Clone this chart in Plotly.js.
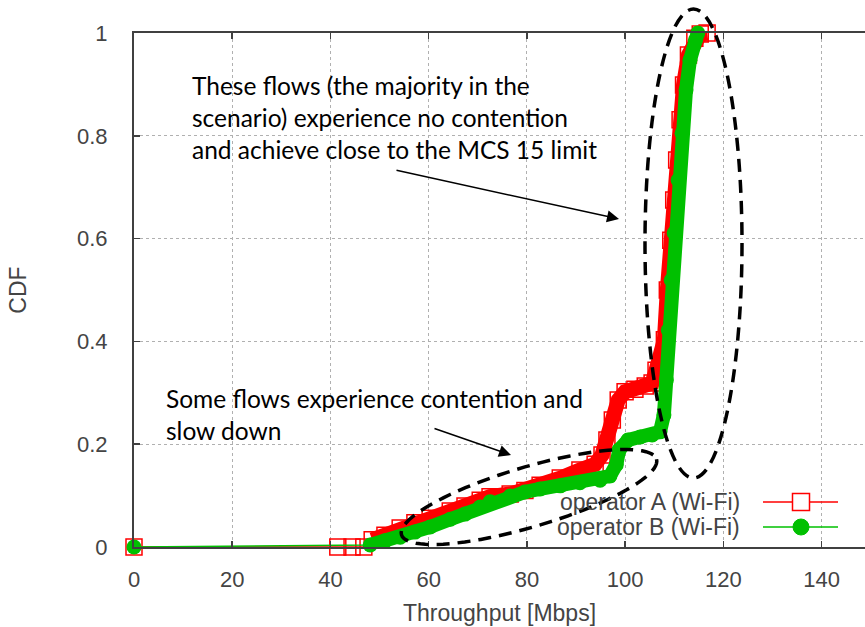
<!DOCTYPE html>
<html>
<head>
<meta charset="utf-8">
<script src="https://cdn.plot.ly/plotly-3.0.1.min.js"></script>
<style>html,body{margin:0;padding:0;background:#fff;}#chart{width:865px;height:627px;}</style>
</head>
<body>
<div id="chart"></div>
<script>
// ---- data ----
const seriesNames = ["operator A (Wi-Fi)", "operator B (Wi-Fi)"];
const redX = [0, 41.5, 44.4, 46.8, 48.5, 51.1, 54.2, 57.2, 60.3, 64.4, 67.4, 70.5, 72.5, 76.6, 79.6, 82.7, 86.8, 90.8, 93.9, 95.3, 96.3, 97.4, 98.6, 100.0, 102.0, 104.1, 105.5, 106.3, 108.0, 108.6, 109.3, 109.9, 110.5, 111.2, 111.9, 112.9, 114.2, 115.3, 116.7];
const redY = [0, 0, 0, 0, 0.014, 0.023, 0.037, 0.047, 0.056, 0.070, 0.080, 0.091, 0.098, 0.103, 0.110, 0.120, 0.134, 0.150, 0.161, 0.179, 0.208, 0.247, 0.286, 0.302, 0.307, 0.313, 0.319, 0.344, 0.403, 0.500, 0.597, 0.675, 0.753, 0.831, 0.899, 0.957, 0.990, 0.998, 1.0];
const greenX = [0, 48.1, 51.1, 54.2, 57.2, 60.3, 64.4, 67.4, 70.5, 72.5, 76.6, 79.6, 82.7, 86.8, 90.8, 94.9, 96.9, 98.2, 98.8, 100.6, 103.1, 105.5, 107.1, 107.9, 108.4, 108.8, 109.4, 110.0, 110.8, 111.6, 112.4, 113.2, 114.3, 114.8];
const greenY = [0, 0.004, 0.012, 0.019, 0.029, 0.039, 0.054, 0.064, 0.078, 0.088, 0.099, 0.107, 0.113, 0.119, 0.125, 0.130, 0.138, 0.160, 0.189, 0.208, 0.214, 0.218, 0.224, 0.257, 0.325, 0.422, 0.519, 0.611, 0.714, 0.805, 0.889, 0.947, 0.986, 1.0];
const xTicks = [0, 20, 40, 60, 80, 100, 120, 140];
const yTicks = [0, 0.2, 0.4, 0.6, 0.8, 1];
const yTickText = ["0", "0.2", "0.4", "0.6", "0.8", "1"];
const redBandStart = 4, greenBandStart = 1;

// ---- styling ----
const RED = "#ff0000", GREEN = "#00c000", AX = "#404040";
const W = 865, H = 627, L = 134, T = 33, PW = 731, PH = 514;
const px = x => (x - L) / PW;
const py = y => (T + PH - y) / PH;

const traces = [
  {x: redX, y: redY, type: "scatter", mode: "lines+markers", showlegend: false, cliponaxis: false,
   line: {color: RED, width: 1.5}, marker: {symbol: "square-open", size: 16, color: RED, line: {width: 1.5, color: RED}}},
  {x: redX.slice(redBandStart), y: redY.slice(redBandStart), type: "scatter", mode: "lines", showlegend: false, cliponaxis: false,
   line: {color: RED, width: 15}},
  {x: greenX, y: greenY, type: "scatter", mode: "lines+markers", showlegend: false, cliponaxis: false,
   line: {color: GREEN, width: 1.5}, marker: {symbol: "circle", size: 15, color: GREEN}},
  {x: greenX.slice(greenBandStart), y: greenY.slice(greenBandStart), type: "scatter", mode: "lines", showlegend: false, cliponaxis: false,
   line: {color: GREEN, width: 14}}
];

function ellipsePath(cx, cy, a, b, deg) {
  const th = deg * Math.PI / 180;
  let d = "";
  for (let i = 0; i <= 90; i++) {
    const t = i / 90 * 2 * Math.PI;
    const x = cx + a * Math.cos(t) * Math.cos(th) - b * Math.sin(t) * Math.sin(th);
    const y = cy + a * Math.cos(t) * Math.sin(th) + b * Math.sin(t) * Math.cos(th);
    d += (i ? "L" : "M") + px(x).toFixed(5) + "," + py(y).toFixed(5);
  }
  return d + "Z";
}

const dashLine = {color: "#000", width: 3.5, dash: "13px,8px"};
const shapes = [
  {type: "circle", xref: "paper", yref: "paper", x0: px(645), x1: px(742), y0: py(478), y1: py(9), line: dashLine},
  {type: "path", xref: "paper", yref: "paper", path: ellipsePath(529, 497, 133, 30, -16.5), line: dashLine},
  // legend samples
  {type: "line", xref: "paper", yref: "paper", x0: px(763), x1: px(838), y0: py(502), y1: py(502), line: {color: RED, width: 1.5}},
  {type: "rect", xref: "paper", yref: "paper", x0: px(792.5), x1: px(809.5), y0: py(510.5), y1: py(493.5), line: {color: RED, width: 1.5}, fillcolor: "#fff"},
  {type: "line", xref: "paper", yref: "paper", x0: px(763), x1: px(838), y0: py(527), y1: py(527), line: {color: GREEN, width: 1.5}},
  {type: "circle", xref: "paper", yref: "paper", x0: px(793), x1: px(809), y0: py(535), y1: py(519), line: {color: GREEN, width: 1}, fillcolor: GREEN}
];

const noteFont = {family: "Lato, 'Open Sans', sans-serif", size: 24.5, color: "#000"};
const legFont = {family: "'Liberation Sans', Arial, sans-serif", size: 23, color: "#444"};
const annotations = [
  {xref: "paper", yref: "paper", x: px(190), y: py(118), xanchor: "left", yanchor: "middle", align: "left", showarrow: false,
   text: "These flows (the majority in the<br>scenario) experience no contention<br>and achieve close to the MCS 15 limit", font: noteFont},
  {xref: "paper", yref: "paper", x: px(164), y: py(414), xanchor: "left", yanchor: "middle", align: "left", showarrow: false,
   text: "Some flows experience contention and<br>slow down", font: noteFont},
  {xref: "paper", yref: "paper", x: px(619), y: py(219), axref: "pixel", ayref: "pixel", ax: 395 - 619, ay: 170 - 219,
   text: "", showarrow: true, arrowhead: 2, arrowsize: 1.6, arrowwidth: 1.5, arrowcolor: "#000"},
  {xref: "paper", yref: "paper", x: px(511), y: py(455), axref: "pixel", ayref: "pixel", ax: 433 - 511, ay: 428 - 455,
   text: "", showarrow: true, arrowhead: 2, arrowsize: 1.6, arrowwidth: 1.5, arrowcolor: "#000"},
  {xref: "paper", yref: "paper", x: px(742), y: py(502), xanchor: "right", yanchor: "middle", showarrow: false, text: seriesNames[0], font: legFont},
  {xref: "paper", yref: "paper", x: px(742), y: py(527), xanchor: "right", yanchor: "middle", showarrow: false, text: seriesNames[1], font: legFont}
];

const tickFont = {family: "'Liberation Sans', Arial, sans-serif", size: 22, color: "#444"};
const titleFont = {family: "'Liberation Sans', Arial, sans-serif", size: 23, color: "#444"};
const layout = {
  width: W, height: H,
  margin: {l: L, r: W - L - PW, t: T, b: H - T - PH, pad: 0},
  paper_bgcolor: "#fff", plot_bgcolor: "#fff",
  showlegend: false,
  xaxis: {
    range: [0, (W - L) / 4.911], tickvals: xTicks, ticktext: xTicks.map(String),
    ticks: "inside", ticklen: 6, tickwidth: 1.5, tickcolor: AX,
    showline: true, linecolor: AX, linewidth: 2, mirror: "ticks",
    showgrid: true, gridcolor: "#b0b0b0", griddash: "dot", gridwidth: 1, zeroline: false,
    tickfont: tickFont, ticklabelstandoff: 12,
    title: {text: "Throughput [Mbps]", font: titleFont, standoff: 13}
  },
  yaxis: {
    range: [0, 1], tickvals: yTicks, ticktext: yTickText,
    ticks: "inside", ticklen: 6, tickwidth: 1.5, tickcolor: AX,
    showline: true, linecolor: AX, linewidth: 2, mirror: false,
    showgrid: true, gridcolor: "#b0b0b0", griddash: "dot", gridwidth: 1, zeroline: false,
    tickfont: tickFont, ticklabelstandoff: 20,
    title: {text: "CDF", font: titleFont, standoff: 44}
  },
  shapes: shapes,
  annotations: annotations
};

Plotly.newPlot("chart", traces, layout, {staticPlot: true, displayModeBar: false});
</script>
</body>
</html>
